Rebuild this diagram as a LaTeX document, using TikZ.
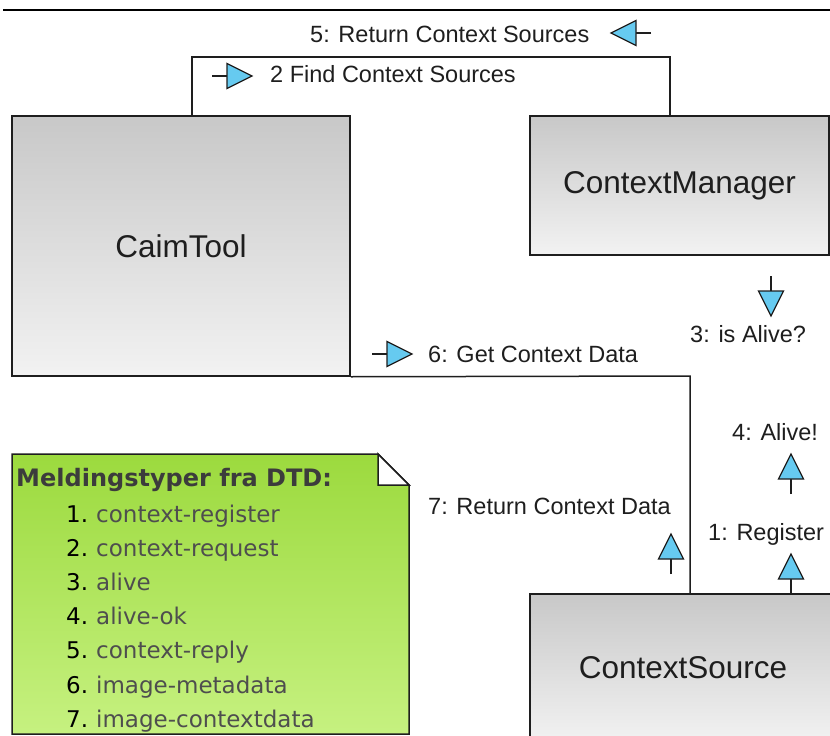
\documentclass[tikz,border=0pt]{standalone}
\usepackage{fontspec}
\setmainfont{Liberation Sans}
\newfontfamily\notefont{DejaVu Sans}

\definecolor{arrowblue}{RGB}{102,202,240}
\definecolor{boxtop}{RGB}{200,200,200}
\definecolor{boxbot}{RGB}{242,242,242}
\definecolor{notetop}{RGB}{156,218,62}
\definecolor{notebot}{RGB}{198,241,128}
\definecolor{inkdark}{RGB}{30,30,30}
\definecolor{notetitle}{RGB}{60,60,60}
\definecolor{noteitem}{RGB}{78,78,78}

\tikzset{
  classbox/.style={draw=inkdark, line width=1.5pt, top color=boxtop, bottom color=boxbot,
    inner sep=0pt, font=\fontsize{31.5}{36}\selectfont, text=inkdark},
  wire/.style={draw=inkdark, line width=1.5pt},
  msglabel/.style={anchor=base west, inner sep=0pt, font=\fontsize{23.5}{28}\selectfont, text=inkdark},
  notenum/.style={anchor=base west, inner sep=0pt, font=\notefont\fontsize{23}{28}\selectfont, text=black},
  noteitem/.style={anchor=base west, inner sep=0pt, font=\notefont\fontsize{23}{28}\selectfont, text=noteitem},
  msgarrow/.pic={
    \draw[line width=1.3pt, inkdark] (-15,0) -- (0,0);
    \draw[fill=arrowblue, draw=inkdark, line width=1.3pt, line join=miter]
      (0,-12.5) -- (25,0) -- (0,12.5) -- cycle;
  }
}

\begin{document}
\begin{tikzpicture}[x=1pt, y=-1pt]
\useasboundingbox (0,0) rectangle (830,736);
\clip (0,0) rectangle (830,736);

% rule along the top edge
\coordinate (ruleL) at (3,10);
\coordinate (ruleR) at (830,10);
\draw[line width=2.4pt, black] (ruleL) -- (ruleR);

% classes
\node[classbox, minimum width=338pt, minimum height=260pt] (caim) at (181,246) {CaimTool};
\node[classbox, minimum width=299pt, minimum height=139pt] (mgr) at (679.5,185.5) {ContextManager};
\node[classbox, minimum width=306pt, minimum height=148pt] (src) at (683,668) {ContextSource};

% links between the classes
\coordinate (upL) at (192,57);
\coordinate (upR) at (670,57);
\draw[wire] (caim.north -| upL) -- (upL) -- (upR) -- (mgr.north -| upR);

\coordinate (dnR) at (690,376);
\draw[wire] (caim.south east) -- (dnR) -- (src.north -| dnR);

% message arrows
\pic at (636,33) [rotate=180] {msgarrow};
\pic at (227,76) {msgarrow};
\pic at (387,354) {msgarrow};
\pic at (771,291) [rotate=-90] {msgarrow};
\pic at (791,479) [rotate=90] {msgarrow};
\pic at (791,579) [rotate=90] {msgarrow};
\pic at (671,559) [rotate=90] {msgarrow};

% message labels
\node[msglabel] (m5) at (310,42) {5: Return Context Sources};
\node[msglabel] (m2) at (270,82) {2 Find Context Sources};
\node[msglabel] (m6) at (428,362) {6: Get Context Data};
\node[msglabel] (m3) at (690,342) {3: is Alive?};
\node[msglabel] (m4) at (732,440) {4: Alive!};
\node[msglabel] (m1) at (708,540) {1: Register};
\node[msglabel] (m7) at (428,514) {7: Return Context Data};

% note with folded corner
\shade[top color=notetop, bottom color=notebot]
  (12,454) -- (378,454) -- (409,485) -- (409,734) -- (12,734) -- cycle;
\draw[line width=1.5pt, draw=inkdark, line join=miter]
  (12,454) -- (378,454) -- (409,485) -- (409,734) -- (12,734) -- cycle;
\draw[fill=white, draw=inkdark, line width=1.5pt, line join=miter]
  (378,454) -- (378,485) -- (409,485) -- cycle;

\node[anchor=base west, inner sep=0pt, font=\notefont\bfseries\fontsize{24}{28}\selectfont, text=notetitle]
  (ntitle) at (16,486) {Meldingstyper fra DTD:};

\foreach \n/\t [count=\i from 0] in {1/context-register, 2/context-request, 3/alive,
    4/alive-ok, 5/context-reply, 6/image-metadata, 7/image-contextdata} {
  \node[notenum] (num\n) at (66,522+34.2*\i) {\n.};
  \node[noteitem] (item\n) at (96,522+34.2*\i) {\t};
}
\end{tikzpicture}
\end{document}
